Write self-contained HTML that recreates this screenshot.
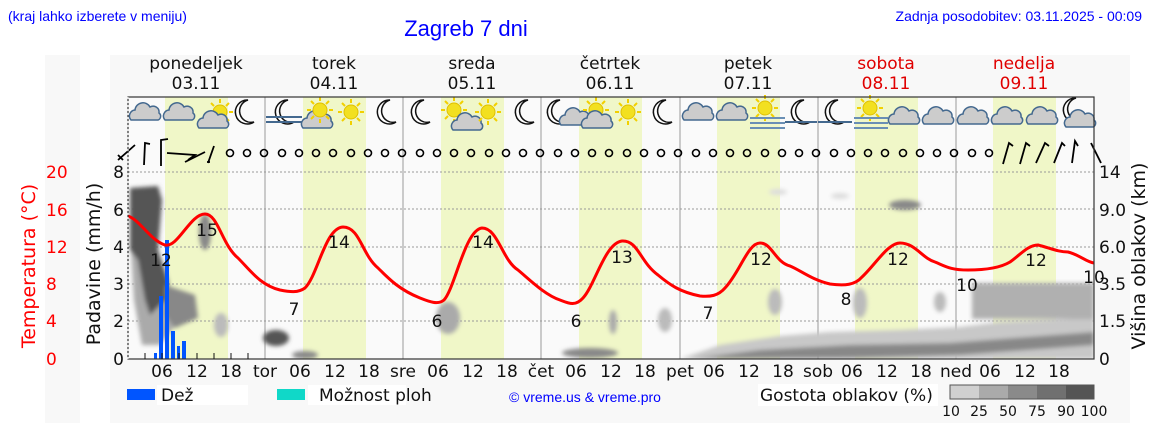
<!DOCTYPE html>
<html><head><meta charset="utf-8"><style>
body{margin:0;background:#fff;width:1152px;height:443px;overflow:hidden;font-family:"DejaVu Sans","Liberation Sans",sans-serif}
</style></head><body>
<svg width="1152" height="443" viewBox="0 0 1152 443" xmlns="http://www.w3.org/2000/svg" font-family="DejaVu Sans, Liberation Sans, sans-serif">
<defs>
<filter id="bl" x="-30%" y="-30%" width="160%" height="160%"><feGaussianBlur stdDeviation="2"/></filter>
<clipPath id="pc"><rect x="128" y="97" width="966" height="262"/></clipPath>
<g id="cl"><path d="M3,20 a6,6 0 0 1 4,-10 a8,8 0 0 1 15,-3 a6,6 0 0 1 9,6 a4,4 0 0 1 -1,7 z" fill="#ccc" stroke="#44698f" stroke-width="1.5"/></g>
<g id="sun"><circle cx="0" cy="0" r="7" fill="#f2e020" stroke="#e0c000"/><g stroke="#f2d000" stroke-width="2"><line x1="0" y1="-13" x2="0" y2="-9"/><line x1="0" y1="13" x2="0" y2="9"/><line x1="-13" y1="0" x2="-9" y2="0"/><line x1="13" y1="0" x2="9" y2="0"/><line x1="-9" y1="-9" x2="-6" y2="-6"/><line x1="9" y1="9" x2="6" y2="6"/><line x1="9" y1="-9" x2="6" y2="-6"/><line x1="-9" y1="9" x2="-6" y2="6"/></g></g>
<g id="moon"><path d="M4,-12 a12,12 0 1 0 6,22 a10,10 0 0 1 -6,-22z" fill="#fff" stroke="#111" stroke-width="1.5"/></g>
</defs>
<rect x="45" y="55" width="35" height="368" fill="#f8f8f8"/>
<rect x="110" y="55" width="1020" height="368" fill="#f8f8f8"/>
<text x="8" y="21" font-family="Liberation Sans" font-size="14" fill="#0000ff">(kraj lahko izberete v meniju)</text>
<text x="466" y="36" font-family="Liberation Sans" font-size="22" fill="#0000ff" text-anchor="middle">Zagreb 7 dni</text>
<text x="1142" y="21" font-family="Liberation Sans" font-size="14" fill="#0000ff" text-anchor="end">Zadnja posodobitev: 03.11.2025 - 00:09</text>
<g font-size="17" text-anchor="middle" fill="#111">
<text x="196" y="69">ponedeljek</text><text x="196" y="89">03.11</text>
<text x="334" y="69">torek</text><text x="334" y="89">04.11</text>
<text x="472" y="69">sreda</text><text x="472" y="89">05.11</text>
<text x="610" y="69">četrtek</text><text x="610" y="89">06.11</text>
<text x="748" y="69">petek</text><text x="748" y="89">07.11</text>
<text x="886" y="69" fill="#e00000">sobota</text><text x="886" y="89" fill="#e00000">08.11</text>
<text x="1024" y="69" fill="#e00000">nedelja</text><text x="1024" y="89" fill="#e00000">09.11</text>
</g>
<rect x="128" y="97" width="966" height="262" fill="#fafafa"/>
<g fill="#f0f7c8">
<rect x="165" y="97" width="63" height="262"/><rect x="303" y="97" width="63" height="262"/><rect x="441" y="97" width="63" height="262"/><rect x="579" y="97" width="63" height="262"/><rect x="717" y="97" width="63" height="262"/><rect x="855" y="97" width="63" height="262"/><rect x="993" y="97" width="63" height="262"/>
</g>
<g stroke="#999" stroke-width="1">
<line x1="265" y1="97" x2="265" y2="359"/><line x1="403" y1="97" x2="403" y2="359"/><line x1="541" y1="97" x2="541" y2="359"/><line x1="680" y1="97" x2="680" y2="359"/><line x1="818" y1="97" x2="818" y2="359"/><line x1="956" y1="97" x2="956" y2="359"/>
</g>
<g stroke="#999" stroke-dasharray="2,2">
<line x1="128" y1="172" x2="1094" y2="172"/><line x1="128" y1="209" x2="1094" y2="209"/><line x1="128" y1="247" x2="1094" y2="247"/><line x1="128" y1="284" x2="1094" y2="284"/><line x1="128" y1="321" x2="1094" y2="321"/>
</g>
<g clip-path="url(#pc)" filter="url(#bl)">
<path d="M130,232 L165,300 L178,322 L160,345 L142,345 L134,300z" fill="#aaa"/>
<path d="M130,188 L158,186 L162,200 L158,250 L168,280 L170,295 L160,305 L150,315 L145,300 L138,260 L130,250z" fill="#555"/>
<path d="M165,285 L195,295 L198,318 L175,328 L165,315z" fill="#888"/>
<ellipse cx="205" cy="232" rx="6" ry="18" fill="#888"/>
<ellipse cx="276" cy="338" rx="13" ry="8" fill="#555"/>
<ellipse cx="305" cy="355" rx="13" ry="4" fill="#888"/>
<ellipse cx="221" cy="325" rx="7" ry="12" fill="#bbb"/>
<ellipse cx="448" cy="318" rx="12" ry="16" fill="#aaa"/>
<ellipse cx="590" cy="353" rx="28" ry="5" fill="#888"/>
<ellipse cx="613" cy="322" rx="4" ry="12" fill="#aaa"/>
<ellipse cx="665" cy="320" rx="7" ry="12" fill="#bbb"/>
<path d="M680,359 L720,345 L780,336 L830,332 L900,330 L960,327 L1000,322 L1094,318 L1094,359z" fill="#c8c8c8"/>
<path d="M690,359 L760,350 L850,345 L950,343 L1094,332 L1094,345 L960,355 L850,358 L700,359z" fill="#888"/>
<rect x="972" y="283" width="122" height="36" fill="#b0b0b0"/>
<ellipse cx="905" cy="205" rx="16" ry="5" fill="#888"/>
<ellipse cx="778" cy="192" rx="9" ry="3" fill="#ddd"/>
<ellipse cx="840" cy="196" rx="9" ry="3" fill="#ddd"/>
<ellipse cx="775" cy="302" rx="7" ry="13" fill="#bbb"/>
<ellipse cx="860" cy="303" rx="7" ry="15" fill="#bbb"/>
<ellipse cx="940" cy="302" rx="6" ry="10" fill="#bbb"/>
</g>
<g fill="#0055ff">
<rect x="154" y="353" width="3" height="6"/><rect x="159" y="296" width="4" height="63"/><rect x="165" y="240" width="4" height="119"/><rect x="171" y="331" width="4" height="28"/><rect x="177" y="346" width="3" height="13"/><rect x="182" y="341" width="4" height="18"/>
</g>
<path fill="none" stroke="#ff0000" stroke-width="3" stroke-linejoin="round" d="M128,216 C140,220 150,240 165,245 C178,248 190,214 205,214 C218,214 222,245 238,258 C250,270 260,285 280,290 C290,292 298,293 305,288 C318,275 325,228 343,227 C360,227 362,255 378,268 C390,280 400,290 420,298 C430,302 438,305 444,300 C455,288 465,230 482,228 C498,228 502,260 518,270 C530,280 545,295 560,300 C568,303 575,307 583,298 C595,285 605,243 622,241 C638,240 640,262 658,275 C670,285 680,292 700,296 C710,297 718,296 725,288 C740,272 748,243 760,243 C772,243 775,262 790,266 C800,270 812,280 830,284 C845,286 855,285 862,277 C875,265 888,243 900,243 C915,243 922,258 935,262 C945,266 950,270 968,270 C985,270 1000,268 1010,262 C1020,255 1028,245 1038,245 C1050,248 1058,252 1068,252 C1080,255 1086,262 1094,263"/>
<g font-size="17" text-anchor="middle" fill="#111">
<text x="161" y="266">12</text><text x="207" y="236">15</text><text x="294" y="315">7</text><text x="339" y="248">14</text><text x="437" y="327">6</text><text x="483" y="248">14</text><text x="576" y="327">6</text><text x="622" y="263">13</text><text x="708" y="319">7</text><text x="761" y="265">12</text><text x="846" y="305">8</text><text x="898" y="265">12</text><text x="967" y="291">10</text><text x="1036" y="266">12</text><text x="1094" y="283">10</text>
</g>
<g>
<use href="#cl" x="128" y="100"/><use href="#cl" x="162" y="100"/>
<use href="#sun" x="220" y="112"/><use href="#cl" x="196" y="108"/>
<use href="#moon" x="244" y="112"/>
<use href="#moon" x="284" y="112"/><rect x="266" y="116" width="36" height="2" fill="#44698f"/><rect x="266" y="121" width="36" height="2" fill="#44698f"/>
<use href="#cl" x="300" y="108"/><use href="#sun" x="320" y="110"/>
<use href="#sun" x="351" y="112"/><use href="#moon" x="386" y="112"/>
<use href="#moon" x="420" y="112"/><use href="#sun" x="454" y="110"/><use href="#cl" x="450" y="110"/>
<use href="#sun" x="488" y="112"/><use href="#moon" x="524" y="112"/>
<use href="#moon" x="556" y="112"/><use href="#cl" x="558" y="105"/>
<use href="#sun" x="596" y="110"/><use href="#cl" x="580" y="108"/>
<use href="#sun" x="628" y="112"/><use href="#moon" x="662" y="112"/>
<use href="#cl" x="681" y="100"/><use href="#cl" x="715" y="100"/>
<use href="#sun" x="765" y="108"/><rect x="750" y="117" width="35" height="2" fill="#6a8fb5"/><rect x="750" y="122" width="35" height="2" fill="#6a8fb5"/><rect x="750" y="127" width="35" height="2" fill="#6a8fb5"/>
<use href="#moon" x="800" y="112"/><rect x="785" y="121" width="32" height="2" fill="#44698f"/>
<use href="#moon" x="834" y="112"/><rect x="818" y="121" width="34" height="2" fill="#44698f"/>
<use href="#sun" x="870" y="108"/><rect x="854" y="117" width="34" height="2" fill="#6a8fb5"/><rect x="854" y="122" width="34" height="2" fill="#6a8fb5"/><rect x="854" y="127" width="34" height="2" fill="#6a8fb5"/>
<use href="#cl" x="887" y="104"/><use href="#cl" x="921" y="104"/><use href="#cl" x="956" y="104"/><use href="#cl" x="990" y="104"/><use href="#cl" x="1025" y="104"/>
<use href="#moon" x="1072" y="110"/><use href="#cl" x="1063" y="107"/>
</g>
<g fill="none" stroke="#000" stroke-width="1.6">
<circle cx="230" cy="153" r="3.5"/><circle cx="247" cy="153" r="3.5"/><circle cx="264" cy="153" r="3.5"/><circle cx="282" cy="153" r="3.5"/><circle cx="299" cy="153" r="3.5"/><circle cx="316" cy="153" r="3.5"/><circle cx="333" cy="153" r="3.5"/><circle cx="351" cy="153" r="3.5"/><circle cx="368" cy="153" r="3.5"/><circle cx="385" cy="153" r="3.5"/><circle cx="402" cy="153" r="3.5"/><circle cx="420" cy="153" r="3.5"/><circle cx="437" cy="153" r="3.5"/><circle cx="454" cy="153" r="3.5"/><circle cx="471" cy="153" r="3.5"/><circle cx="489" cy="153" r="3.5"/><circle cx="506" cy="153" r="3.5"/><circle cx="523" cy="153" r="3.5"/><circle cx="540" cy="153" r="3.5"/><circle cx="558" cy="153" r="3.5"/><circle cx="575" cy="153" r="3.5"/><circle cx="592" cy="153" r="3.5"/><circle cx="609" cy="153" r="3.5"/><circle cx="627" cy="153" r="3.5"/><circle cx="644" cy="153" r="3.5"/><circle cx="661" cy="153" r="3.5"/><circle cx="678" cy="153" r="3.5"/><circle cx="696" cy="153" r="3.5"/><circle cx="713" cy="153" r="3.5"/><circle cx="730" cy="153" r="3.5"/><circle cx="747" cy="153" r="3.5"/><circle cx="765" cy="153" r="3.5"/><circle cx="782" cy="153" r="3.5"/><circle cx="799" cy="153" r="3.5"/><circle cx="816" cy="153" r="3.5"/><circle cx="834" cy="153" r="3.5"/><circle cx="851" cy="153" r="3.5"/><circle cx="868" cy="153" r="3.5"/><circle cx="885" cy="153" r="3.5"/><circle cx="903" cy="153" r="3.5"/><circle cx="920" cy="153" r="3.5"/><circle cx="937" cy="153" r="3.5"/><circle cx="954" cy="153" r="3.5"/><circle cx="972" cy="153" r="3.5"/><circle cx="989" cy="153" r="3.5"/>
</g>
<g stroke="#000" stroke-width="1.8" fill="none">
<path d="M118,160 L135,145 M118,155 L123,160"/><path d="M144,165 L145,143 L150,144"/><path d="M161,166 L161,140 L168,139"/><path d="M167,153 L195,155 L188,160"/><path d="M185,162 L205,152"/><path d="M208,163 L214,146 M207,162 L210,162"/>
<path d="M1003,164 L1009,143 L1013,146"/><path d="M1020,164 L1026,143 L1030,146"/><path d="M1036,163 L1045,143 L1049,146"/><path d="M1054,163 L1062,143 L1065,146"/><path d="M1072,163 L1075,141 L1078,146"/><path d="M1091,143 L1101,163"/>
</g>
<rect x="128" y="97" width="966" height="262" fill="none" stroke="#333" stroke-width="1.2"/>
<line x1="128" y1="97" x2="128" y2="359" stroke="#fff" stroke-dasharray="2,2"/>
<g stroke="#111">
<line x1="145" y1="353" x2="145" y2="359"/><line x1="162" y1="353" x2="162" y2="359"/><line x1="179" y1="353" x2="179" y2="359"/><line x1="197" y1="353" x2="197" y2="359"/><line x1="214" y1="353" x2="214" y2="359"/><line x1="231" y1="353" x2="231" y2="359"/><line x1="248" y1="353" x2="248" y2="359"/>
</g>
<g font-size="17" fill="#111" text-anchor="middle">
<text x="162" y="377">06</text><text x="197" y="377">12</text><text x="231" y="377">18</text><text x="265" y="377">tor</text>
<text x="300" y="377">06</text><text x="335" y="377">12</text><text x="369" y="377">18</text><text x="403" y="377">sre</text>
<text x="438" y="377">06</text><text x="473" y="377">12</text><text x="507" y="377">18</text><text x="541" y="377">čet</text>
<text x="576" y="377">06</text><text x="611" y="377">12</text><text x="645" y="377">18</text><text x="680" y="377">pet</text>
<text x="714" y="377">06</text><text x="749" y="377">12</text><text x="783" y="377">18</text><text x="818" y="377">sob</text>
<text x="852" y="377">06</text><text x="887" y="377">12</text><text x="921" y="377">18</text><text x="956" y="377">ned</text>
<text x="990" y="377">06</text><text x="1025" y="377">12</text><text x="1059" y="377">18</text>
</g>
<g font-size="17" fill="#111" text-anchor="end">
<text x="124" y="178">8</text><text x="124" y="216">6</text><text x="124" y="253">4</text><text x="124" y="290">3</text><text x="124" y="327">2</text><text x="124" y="365">0</text>
</g>
<g font-size="17" fill="#ff0000" text-anchor="start">
<text x="46" y="178">20</text><text x="46" y="216">16</text><text x="46" y="253">12</text><text x="46" y="290">8</text><text x="46" y="327">4</text><text x="46" y="365">0</text>
</g>
<text transform="translate(35,266) rotate(-90)" font-size="19" fill="#ff0000" text-anchor="middle">Temperatura (°C)</text>
<text transform="translate(100,264) rotate(-90)" font-size="19" fill="#111" text-anchor="middle">Padavine (mm/h)</text>
<g font-size="17" fill="#111">
<text x="1099" y="178">14</text><text x="1099" y="216">9.0</text><text x="1099" y="253">6.0</text><text x="1099" y="290">3.5</text><text x="1099" y="327">1.5</text><text x="1099" y="365">0</text>
</g>
<text transform="translate(1145,256) rotate(-90)" font-size="19" fill="#111" text-anchor="middle">Višina oblakov (km)</text>
<rect x="127" y="389" width="28" height="11" fill="#0055ff"/>
<rect x="157" y="385" width="91" height="20" fill="#fff"/>
<text x="161" y="401" font-size="17" fill="#111">Dež</text>
<rect x="277" y="389" width="28" height="11" fill="#10d8c8"/>
<rect x="308" y="385" width="98" height="20" fill="#fff"/>
<text x="319" y="401" font-size="17" fill="#111">Možnost ploh</text>
<text x="585" y="402" font-family="Liberation Sans" font-size="14" fill="#0000ff" text-anchor="middle">© vreme.us &amp; vreme.pro</text>
<rect x="758" y="384" width="180" height="22" fill="#fff"/>
<text x="760" y="401" font-size="17" fill="#111">Gostota oblakov (%)</text>
<rect x="950" y="385" width="29" height="14" fill="#d0d0d0"/><rect x="979" y="385" width="29" height="14" fill="#aaa"/><rect x="1008" y="385" width="29" height="14" fill="#8a8a8a"/><rect x="1037" y="385" width="29" height="14" fill="#707070"/><rect x="1066" y="385" width="28" height="14" fill="#555"/>
<rect x="950" y="385" width="144" height="14" fill="none" stroke="#555"/>
<g font-size="14" fill="#111" text-anchor="middle"><text x="951" y="416">10</text><text x="979" y="416">25</text><text x="1008" y="416">50</text><text x="1037" y="416">75</text><text x="1066" y="416">90</text><text x="1094" y="416">100</text></g>
</svg>
</body></html>
